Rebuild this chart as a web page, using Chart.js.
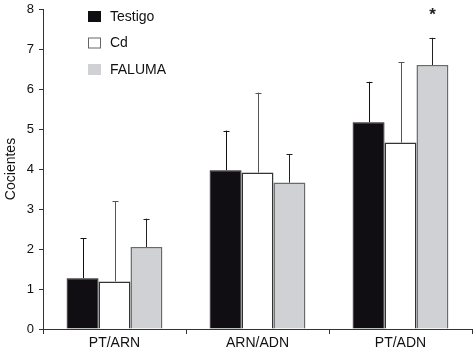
<!DOCTYPE html>
<html>
<head>
<meta charset="utf-8">
<script src="https://cdn.jsdelivr.net/npm/chart.js@4"></script>
<style>
  body { margin: 0; background: #fff; }
  #wrap { width: 473px; height: 358px; }
</style>
</head>
<body>
<div id="wrap"><canvas id="cocientesChart" width="473" height="358"></canvas></div>
<script>
const categories = ['PT/ARN', 'ARN/ADN', 'PT/ADN'];
const testigo = [1.27, 3.97, 5.17];
const testigoErr = [1.0, 0.99, 1.01];
const cd = [1.19, 3.91, 4.66];
const cdErr = [2.0, 2.0, 2.01];
const faluma = [2.05, 3.66, 6.6];
const falumaErr = [0.71, 0.71, 0.68];
const falumaMarks = ['', '', '*'];
const yMin = 0, yMax = 8, yStep = 1;

const FONT = 'Arial, "Liberation Sans", Helvetica, sans-serif';

// upward-only error bars + significance marks
const errorBars = {
  id: 'errorBars',
  afterDatasetsDraw(chart) {
    const ctx = chart.ctx;
    const y = chart.scales.y;
    chart.data.datasets.forEach((ds, di) => {
      const meta = chart.getDatasetMeta(di);
      meta.data.forEach((bar, i) => {
        const top = y.getPixelForValue(ds.data[i] + ds.errors[i]);
        const x = Math.round(bar.x) + 0.5;
        ctx.save();
        ctx.strokeStyle = ds.errorColor;
        ctx.lineWidth = 1;
        ctx.beginPath();
        ctx.moveTo(x, bar.y);
        ctx.lineTo(x, top);
        ctx.moveTo(x - 3, Math.round(top) + 0.5);
        ctx.lineTo(x + 3, Math.round(top) + 0.5);
        ctx.stroke();
        if (ds.marks && ds.marks[i]) {
          ctx.fillStyle = '#222';
          ctx.font = 'bold 17px ' + FONT;
          ctx.textAlign = 'center';
          ctx.textBaseline = 'middle';
          ctx.fillText(ds.marks[i], x, top - 22);
        }
        ctx.restore();
      });
    });
  }
};

// vertical legend inside the plot, top-left
const boxLegend = {
  id: 'boxLegend',
  afterDraw(chart) {
    const ctx = chart.ctx;
    const left = chart.chartArea.left + 45;
    chart.data.datasets.forEach((ds, i) => {
      const cy = 17 + i * 26.5;
      ctx.save();
      ctx.fillStyle = ds.backgroundColor;
      ctx.fillRect(left, cy - 6, 13, 11);
      ctx.strokeStyle = ds.legendBorder;
      ctx.lineWidth = 1;
      ctx.strokeRect(left + 0.5, cy - 5.5, 12, 10);
      ctx.fillStyle = '#111';
      ctx.font = '14px ' + FONT;
      ctx.textBaseline = 'middle';
      ctx.fillText(ds.label, left + 22, cy);
      ctx.restore();
    });
  }
};

const config = {
  type: 'bar',
  data: {
    labels: categories,
    datasets: [
      {
        label: 'Testigo',
        data: testigo,
        errors: testigoErr,
        backgroundColor: '#110e13',
        borderColor: '#110e13',
        legendBorder: '#110e13',
        errorColor: '#111',
        borderWidth: 1
      },
      {
        label: 'Cd',
        data: cd,
        errors: cdErr,
        backgroundColor: '#ffffff',
        borderColor: '#333333',
        legendBorder: '#666666',
        errorColor: '#555',
        borderWidth: 1.5
      },
      {
        label: 'FALUMA',
        data: faluma,
        errors: falumaErr,
        marks: falumaMarks,
        backgroundColor: '#cfd1d4',
        borderColor: '#6a6a6a',
        legendBorder: '#cfd1d4',
        errorColor: '#222',
        borderWidth: 1.5
      }
    ]
  },
  options: {
    responsive: false,
    animation: false,
    layout: { padding: { top: 9, right: 1, left: 0, bottom: 0 } },
    datasets: {
      bar: { categoryPercentage: 0.67, barPercentage: 1.0 }
    },
    plugins: {
      legend: { display: false },
      tooltip: { enabled: false }
    },
    scales: {
      x: {
        grid: { display: true, drawOnChartArea: false, tickLength: 5, color: '#333', offset: true },
        border: { color: '#333', width: 1 },
        ticks: { color: '#111', font: { family: FONT, size: 14 }, padding: 1 },
        afterFit(scale) { scale.height = 29; scale.paddingRight = 0; }
      },
      y: {
        min: yMin,
        max: yMax,
        grid: { display: true, drawOnChartArea: false, tickLength: 4, color: '#333' },
        border: { color: '#333', width: 1 },
        ticks: { stepSize: yStep, color: '#111', font: { family: FONT, size: 13 }, padding: 5 },
        title: {
          display: true,
          text: 'Cocientes',
          color: '#111',
          font: { family: FONT, size: 14 },
          padding: { top: 3, bottom: 0 }
        },
        afterFit(scale) { scale.width = 43; scale.paddingTop = 0; scale.paddingBottom = 0; }
      }
    }
  },
  plugins: [errorBars, boxLegend]
};

const myChart = new Chart(document.getElementById('cocientesChart'), config);
</script>
</body>
</html>
